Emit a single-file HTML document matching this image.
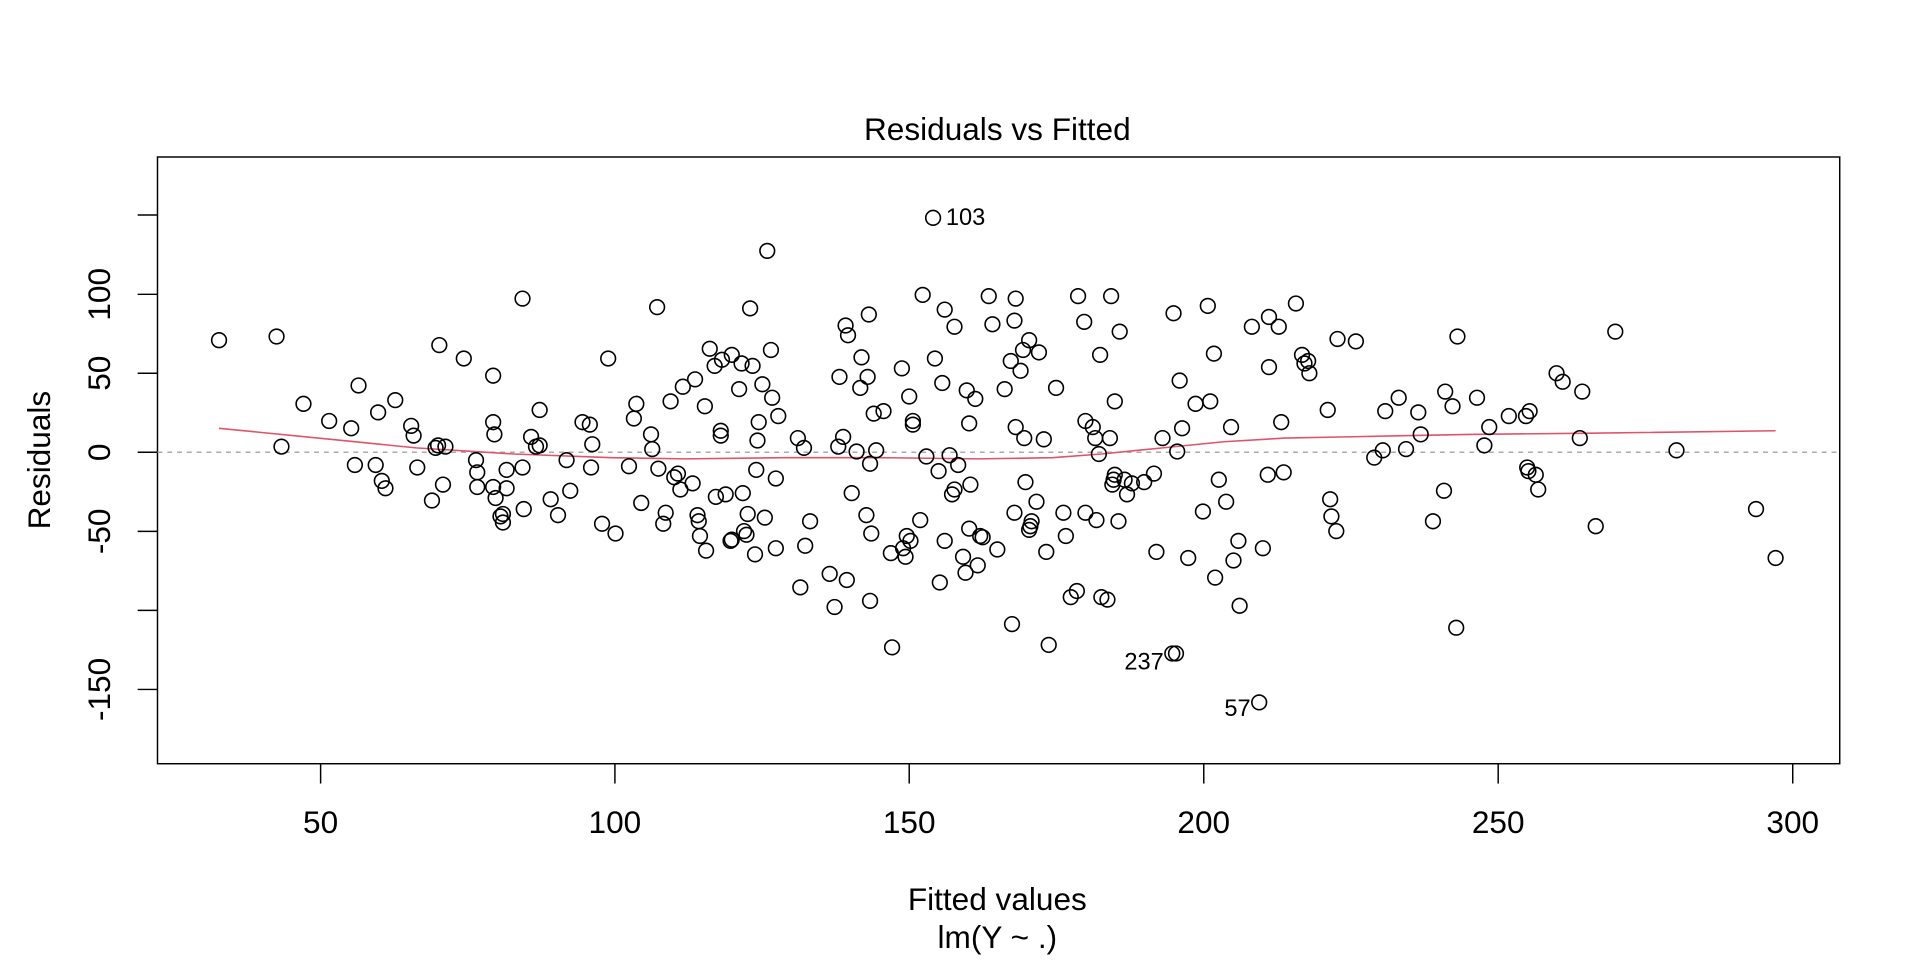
<!DOCTYPE html>
<html><head><meta charset="utf-8"><style>html,body{margin:0;padding:0;background:#fff}svg{display:block}</style></head>
<body>
<svg xmlns="http://www.w3.org/2000/svg" width="1920" height="960" viewBox="0 0 1569 784.5" font-family="Liberation Sans, Arial, sans-serif">
<rect width="1569" height="784.5" fill="#fff"/>
<text x="815" y="114.4" font-size="25.8" text-anchor="middle">Residuals vs Fitted</text>
<rect x="128.7" y="128.3" width="1374.7" height="495.8" fill="none" stroke="#000" stroke-width="1.2"/>
<line x1="128.7" y1="369.6" x2="1503.4" y2="369.6" stroke="#aaa" stroke-width="1.2" stroke-dasharray="4,4"/>
<g stroke="#000" stroke-width="1.2">
<line x1="112.5" y1="175.7" x2="128.7" y2="175.7"/><line x1="112.5" y1="240.5" x2="128.7" y2="240.5"/><line x1="112.5" y1="305" x2="128.7" y2="305"/><line x1="112.5" y1="369.6" x2="128.7" y2="369.6"/><line x1="112.5" y1="434.2" x2="128.7" y2="434.2"/><line x1="112.5" y1="498.8" x2="128.7" y2="498.8"/><line x1="112.5" y1="563.4" x2="128.7" y2="563.4"/>
<line x1="262" y1="624.1" x2="262" y2="640.3"/><line x1="502.5" y1="624.1" x2="502.5" y2="640.3"/><line x1="743" y1="624.1" x2="743" y2="640.3"/><line x1="983.7" y1="624.1" x2="983.7" y2="640.3"/><line x1="1224.3" y1="624.1" x2="1224.3" y2="640.3"/><line x1="1465" y1="624.1" x2="1465" y2="640.3"/>
</g>
<g font-size="25.8" text-anchor="middle">
<text x="262" y="680.7">50</text><text x="502.5" y="680.7">100</text><text x="743" y="680.7">150</text><text x="983.7" y="680.7">200</text><text x="1224.3" y="680.7">250</text><text x="1465" y="680.7">300</text>
<text transform="translate(90,240.5) rotate(-90)">100</text>
<text transform="translate(90,305) rotate(-90)">50</text>
<text transform="translate(90,369.6) rotate(-90)">0</text>
<text transform="translate(90,434.2) rotate(-90)">-50</text>
<text transform="translate(90,563.4) rotate(-90)">-150</text>
<text x="815" y="743.6">Fitted values</text>
<text x="815" y="774.7">lm(Y ~ .)</text>
<text transform="translate(41,376) rotate(-90)">Residuals</text>
</g>
<polyline fill="none" stroke="#DF536B" stroke-width="1.3" points="179,350 260,358 340,366 420,371 500,374 560,375 640,374 720,374 800,375 860,374 900,371 950,366 1000,361 1050,358 1100,357 1200,355 1300,354 1451,352"/>
<g fill="none" stroke="#000" stroke-width="1.3">
<circle cx="179" cy="278" r="6"/><circle cx="226" cy="275" r="6"/><circle cx="230" cy="365" r="6"/><circle cx="248" cy="330" r="6"/><circle cx="269" cy="344" r="6"/><circle cx="287" cy="350" r="6"/><circle cx="290" cy="380" r="6"/><circle cx="293" cy="315" r="6"/><circle cx="307" cy="380" r="6"/><circle cx="309" cy="337" r="6"/><circle cx="312" cy="393" r="6"/><circle cx="315" cy="399" r="6"/><circle cx="323" cy="327" r="6"/><circle cx="336" cy="348" r="6"/><circle cx="338" cy="356" r="6"/><circle cx="341" cy="382" r="6"/><circle cx="353" cy="409" r="6"/><circle cx="358" cy="364" r="6"/><circle cx="359" cy="282" r="6"/><circle cx="356" cy="366" r="6"/><circle cx="362" cy="396" r="6"/><circle cx="364" cy="365" r="6"/><circle cx="379" cy="293" r="6"/><circle cx="389" cy="376" r="6"/><circle cx="390" cy="398" r="6"/><circle cx="390" cy="386" r="6"/><circle cx="403" cy="345" r="6"/><circle cx="403" cy="307" r="6"/><circle cx="404" cy="355" r="6"/><circle cx="403" cy="398" r="6"/><circle cx="405" cy="407" r="6"/><circle cx="409" cy="422" r="6"/><circle cx="411" cy="427" r="6"/><circle cx="411" cy="420" r="6"/><circle cx="414" cy="384" r="6"/><circle cx="414" cy="399" r="6"/><circle cx="427" cy="244" r="6"/><circle cx="427" cy="382" r="6"/><circle cx="428" cy="416" r="6"/><circle cx="434" cy="357" r="6"/><circle cx="441" cy="335" r="6"/><circle cx="438" cy="365" r="6"/><circle cx="441" cy="364" r="6"/><circle cx="450" cy="408" r="6"/><circle cx="456" cy="421" r="6"/><circle cx="463" cy="376" r="6"/><circle cx="466" cy="401" r="6"/><circle cx="476" cy="345" r="6"/><circle cx="482" cy="347" r="6"/><circle cx="484" cy="363" r="6"/><circle cx="483" cy="382" r="6"/><circle cx="492" cy="428" r="6"/><circle cx="497" cy="293" r="6"/><circle cx="503" cy="436" r="6"/><circle cx="514" cy="381" r="6"/><circle cx="518" cy="342" r="6"/><circle cx="520" cy="330" r="6"/><circle cx="524" cy="411" r="6"/><circle cx="532" cy="355" r="6"/><circle cx="533" cy="367" r="6"/><circle cx="537" cy="251" r="6"/><circle cx="538" cy="383" r="6"/><circle cx="542" cy="428" r="6"/><circle cx="544" cy="419" r="6"/><circle cx="548" cy="328" r="6"/><circle cx="551" cy="390" r="6"/><circle cx="554" cy="387" r="6"/><circle cx="556" cy="400" r="6"/><circle cx="558" cy="316" r="6"/><circle cx="566" cy="395" r="6"/><circle cx="568" cy="310" r="6"/><circle cx="570" cy="421" r="6"/><circle cx="571" cy="426" r="6"/><circle cx="572" cy="438" r="6"/><circle cx="576" cy="332" r="6"/><circle cx="577" cy="450" r="6"/><circle cx="580" cy="285" r="6"/><circle cx="584" cy="299" r="6"/><circle cx="585" cy="406" r="6"/><circle cx="589" cy="352" r="6"/><circle cx="589" cy="356" r="6"/><circle cx="590" cy="294" r="6"/><circle cx="593" cy="404" r="6"/><circle cx="597" cy="442" r="6"/><circle cx="598" cy="290" r="6"/><circle cx="598" cy="441" r="6"/><circle cx="604" cy="318" r="6"/><circle cx="606" cy="297" r="6"/><circle cx="607" cy="403" r="6"/><circle cx="608" cy="434" r="6"/><circle cx="610" cy="437" r="6"/><circle cx="611" cy="420" r="6"/><circle cx="613" cy="252" r="6"/><circle cx="615" cy="299" r="6"/><circle cx="617" cy="453" r="6"/><circle cx="618" cy="384" r="6"/><circle cx="619" cy="360" r="6"/><circle cx="620" cy="345" r="6"/><circle cx="623" cy="314" r="6"/><circle cx="625" cy="423" r="6"/><circle cx="627" cy="205" r="6"/><circle cx="630" cy="286" r="6"/><circle cx="631" cy="325" r="6"/><circle cx="634" cy="448" r="6"/><circle cx="634" cy="391" r="6"/><circle cx="636" cy="340" r="6"/><circle cx="652" cy="358" r="6"/><circle cx="654" cy="480" r="6"/><circle cx="657" cy="366" r="6"/><circle cx="658" cy="446" r="6"/><circle cx="662" cy="426" r="6"/><circle cx="678" cy="469" r="6"/><circle cx="682" cy="496" r="6"/><circle cx="685" cy="365" r="6"/><circle cx="686" cy="308" r="6"/><circle cx="689" cy="357" r="6"/><circle cx="692" cy="474" r="6"/><circle cx="691" cy="266" r="6"/><circle cx="693" cy="274" r="6"/><circle cx="696" cy="403" r="6"/><circle cx="700" cy="369" r="6"/><circle cx="703" cy="317" r="6"/><circle cx="704" cy="292" r="6"/><circle cx="710" cy="257" r="6"/><circle cx="708" cy="421" r="6"/><circle cx="709" cy="308" r="6"/><circle cx="711" cy="491" r="6"/><circle cx="712" cy="436" r="6"/><circle cx="711" cy="379" r="6"/><circle cx="714" cy="338" r="6"/><circle cx="716" cy="368" r="6"/><circle cx="722" cy="336" r="6"/><circle cx="729" cy="529" r="6"/><circle cx="728" cy="452" r="6"/><circle cx="737" cy="301" r="6"/><circle cx="738" cy="448" r="6"/><circle cx="740" cy="455" r="6"/><circle cx="741" cy="438" r="6"/><circle cx="743" cy="324" r="6"/><circle cx="744" cy="442" r="6"/><circle cx="746" cy="344" r="6"/><circle cx="746" cy="347" r="6"/><circle cx="752" cy="425" r="6"/><circle cx="754" cy="241" r="6"/><circle cx="757" cy="373" r="6"/><circle cx="762.5" cy="178" r="6"/><circle cx="764" cy="293" r="6"/><circle cx="767" cy="385" r="6"/><circle cx="768" cy="476" r="6"/><circle cx="770" cy="313" r="6"/><circle cx="772" cy="253" r="6"/><circle cx="772" cy="442" r="6"/><circle cx="776" cy="372" r="6"/><circle cx="778" cy="404" r="6"/><circle cx="780" cy="267" r="6"/><circle cx="780" cy="400" r="6"/><circle cx="783" cy="380" r="6"/><circle cx="787" cy="455" r="6"/><circle cx="789" cy="468" r="6"/><circle cx="790" cy="319" r="6"/><circle cx="792" cy="346" r="6"/><circle cx="792" cy="432" r="6"/><circle cx="793" cy="396" r="6"/><circle cx="797" cy="326" r="6"/><circle cx="799" cy="462" r="6"/><circle cx="801" cy="438" r="6"/><circle cx="803" cy="439" r="6"/><circle cx="808" cy="242" r="6"/><circle cx="811" cy="265" r="6"/><circle cx="815" cy="449" r="6"/><circle cx="821" cy="318" r="6"/><circle cx="826" cy="295" r="6"/><circle cx="827" cy="510" r="6"/><circle cx="829" cy="262" r="6"/><circle cx="829" cy="419" r="6"/><circle cx="830" cy="244" r="6"/><circle cx="830" cy="349" r="6"/><circle cx="834" cy="303" r="6"/><circle cx="836" cy="286" r="6"/><circle cx="837" cy="358" r="6"/><circle cx="838" cy="394" r="6"/><circle cx="841" cy="278" r="6"/><circle cx="841" cy="433" r="6"/><circle cx="842" cy="430" r="6"/><circle cx="843" cy="426" r="6"/><circle cx="847" cy="410" r="6"/><circle cx="849" cy="288" r="6"/><circle cx="853" cy="359" r="6"/><circle cx="855" cy="451" r="6"/><circle cx="857" cy="527" r="6"/><circle cx="863" cy="317" r="6"/><circle cx="869" cy="419" r="6"/><circle cx="871" cy="438" r="6"/><circle cx="875" cy="488" r="6"/><circle cx="880" cy="483" r="6"/><circle cx="881" cy="242" r="6"/><circle cx="886" cy="263" r="6"/><circle cx="887" cy="419" r="6"/><circle cx="887" cy="344" r="6"/><circle cx="893" cy="349" r="6"/><circle cx="895" cy="358" r="6"/><circle cx="896" cy="425" r="6"/><circle cx="898" cy="371" r="6"/><circle cx="899" cy="290" r="6"/><circle cx="900" cy="488" r="6"/><circle cx="905" cy="490" r="6"/><circle cx="907" cy="358" r="6"/><circle cx="908" cy="242" r="6"/><circle cx="909" cy="396" r="6"/><circle cx="910" cy="392" r="6"/><circle cx="911" cy="388" r="6"/><circle cx="911" cy="328" r="6"/><circle cx="914" cy="426" r="6"/><circle cx="915" cy="271" r="6"/><circle cx="919" cy="392" r="6"/><circle cx="921" cy="404" r="6"/><circle cx="925" cy="395" r="6"/><circle cx="935" cy="394" r="6"/><circle cx="943" cy="387" r="6"/><circle cx="945" cy="451" r="6"/><circle cx="950" cy="358" r="6"/><circle cx="958" cy="534" r="6"/><circle cx="959" cy="256" r="6"/><circle cx="961" cy="534" r="6"/><circle cx="962" cy="369" r="6"/><circle cx="964" cy="311" r="6"/><circle cx="966" cy="350" r="6"/><circle cx="971" cy="456" r="6"/><circle cx="977" cy="330" r="6"/><circle cx="983" cy="418" r="6"/><circle cx="989" cy="328" r="6"/><circle cx="987" cy="250" r="6"/><circle cx="992" cy="289" r="6"/><circle cx="993" cy="472" r="6"/><circle cx="996" cy="392" r="6"/><circle cx="1002" cy="410" r="6"/><circle cx="1006" cy="349" r="6"/><circle cx="1008" cy="458" r="6"/><circle cx="1012" cy="442" r="6"/><circle cx="1013" cy="495" r="6"/><circle cx="1023" cy="267" r="6"/><circle cx="1029" cy="574" r="6"/><circle cx="1032" cy="448" r="6"/><circle cx="1036" cy="388" r="6"/><circle cx="1037" cy="300" r="6"/><circle cx="1037" cy="259" r="6"/><circle cx="1045" cy="267" r="6"/><circle cx="1047" cy="345" r="6"/><circle cx="1049" cy="386" r="6"/><circle cx="1059" cy="248" r="6"/><circle cx="1064" cy="290" r="6"/><circle cx="1066" cy="297" r="6"/><circle cx="1069" cy="295" r="6"/><circle cx="1070" cy="305" r="6"/><circle cx="1085" cy="335" r="6"/><circle cx="1087" cy="408" r="6"/><circle cx="1088" cy="422" r="6"/><circle cx="1093" cy="277" r="6"/><circle cx="1092" cy="434" r="6"/><circle cx="1108" cy="279" r="6"/><circle cx="1123" cy="374" r="6"/><circle cx="1130" cy="368" r="6"/><circle cx="1132" cy="336" r="6"/><circle cx="1143" cy="325" r="6"/><circle cx="1149" cy="367" r="6"/><circle cx="1159" cy="337" r="6"/><circle cx="1161" cy="355" r="6"/><circle cx="1171" cy="426" r="6"/><circle cx="1180" cy="401" r="6"/><circle cx="1181" cy="320" r="6"/><circle cx="1187" cy="332" r="6"/><circle cx="1190" cy="513" r="6"/><circle cx="1191" cy="275" r="6"/><circle cx="1207" cy="325" r="6"/><circle cx="1213" cy="364" r="6"/><circle cx="1217" cy="349" r="6"/><circle cx="1233" cy="340" r="6"/><circle cx="1247" cy="340" r="6"/><circle cx="1250" cy="336" r="6"/><circle cx="1248" cy="382" r="6"/><circle cx="1249" cy="385" r="6"/><circle cx="1255" cy="388" r="6"/><circle cx="1257" cy="400" r="6"/><circle cx="1272" cy="305" r="6"/><circle cx="1277" cy="312" r="6"/><circle cx="1291" cy="358" r="6"/><circle cx="1293" cy="320" r="6"/><circle cx="1304" cy="430" r="6"/><circle cx="1320" cy="271" r="6"/><circle cx="1370" cy="368" r="6"/><circle cx="1435" cy="416" r="6"/><circle cx="1451" cy="456" r="6"/>
</g>
<g font-size="19.3">
<text x="773" y="184">103</text>
<text x="951" y="547" text-anchor="end">237</text>
<text x="1022" y="585" text-anchor="end">57</text>
</g>
</svg>
</body></html>
